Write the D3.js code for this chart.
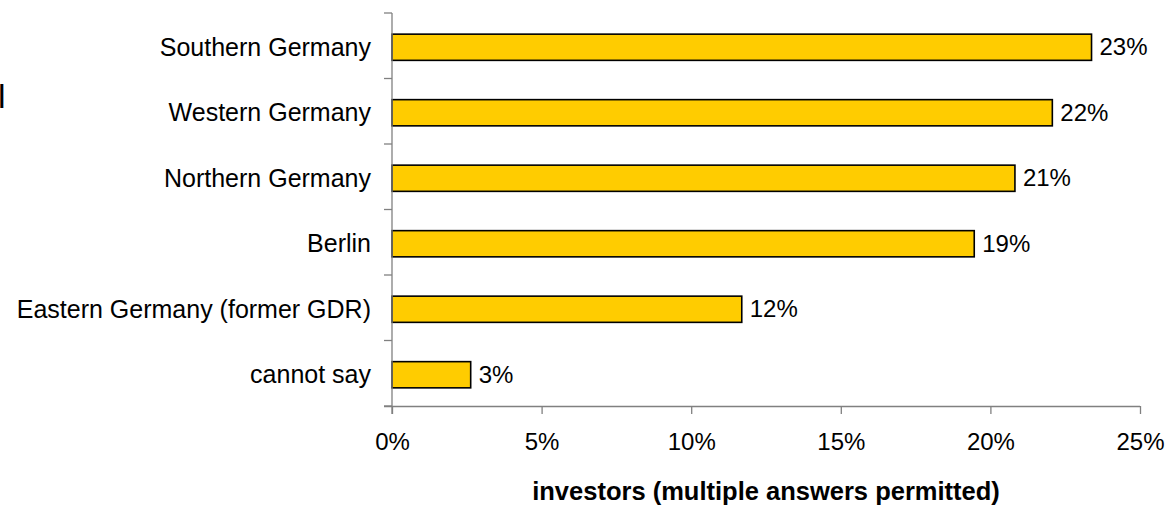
<!DOCTYPE html>
<html>
<head>
<meta charset="utf-8">
<script src="https://cdn.jsdelivr.net/npm/d3@7"></script>
<style>
  html, body { margin: 0; padding: 0; background: #fff; }
  svg { display: block; font-family: "Liberation Sans", Arial, sans-serif; }
</style>
</head>
<body>
<svg id="chart" width="1167" height="506"></svg>
<script>
// Regions named by investors (share of respondents)
const categories = [
  "Southern Germany",
  "Western Germany",
  "Northern Germany",
  "Berlin",
  "Eastern Germany (former GDR)",
  "cannot say"
];
const shares = [0.2338, 0.2207, 0.2082, 0.1946, 0.1169, 0.0263];
const xTicks = [0, 0.05, 0.10, 0.15, 0.20, 0.25];
const axisTitle = "investors (multiple answers permitted)";

const svg = d3.select("#chart");
const plotLeft = 392, plotRight = 1140, plotTop = 13, plotBottom = 406;

const x = d3.scaleLinear().domain([0, 0.25]).range([plotLeft, plotRight]);
const y = d3.scaleBand().domain(categories).range([plotTop, plotBottom])
  .paddingInner(0.6).paddingOuter(0.3);

const pct = d3.format(".0%");

// clipped fragment of text at the left edge
svg.append("text")
  .attr("x", -2).attr("y", 108)
  .attr("font-size", 34)
  .attr("fill", "#000")
  .text("l");

// bars
svg.append("g").selectAll("rect")
  .data(categories)
  .join("rect")
  .attr("x", x(0))
  .attr("y", c => y(c) + 1.5)
  .attr("width", (c, i) => x(shares[i]) - x(0))
  .attr("height", y.bandwidth())
  .attr("fill", "#FFCC00")
  .attr("stroke", "#000")
  .attr("stroke-width", 1.6);

// value labels
svg.append("g").selectAll("text")
  .data(categories)
  .join("text")
  .attr("x", (c, i) => x(shares[i]) + 8)
  .attr("y", c => y(c) + y.bandwidth() / 2 + 1)
  .attr("dy", "0.35em")
  .attr("font-size", 24)
  .attr("fill", "#000")
  .text((c, i) => pct(shares[i]));

// category axis
const gy = svg.append("g");
gy.append("line")
  .attr("x1", plotLeft).attr("x2", plotLeft)
  .attr("y1", plotTop).attr("y2", plotBottom + 8)
  .attr("stroke", "#808080").attr("stroke-width", 1.3);
const gap = (y.step() - y.bandwidth()) / 2;
const boundaries = categories.map(c => y(c) - gap).concat([plotBottom]);
gy.selectAll("line.tick")
  .data(boundaries)
  .join("line")
  .attr("class", "tick")
  .attr("x1", plotLeft - 8).attr("x2", plotLeft)
  .attr("y1", d => d).attr("y2", d => d)
  .attr("stroke", "#808080").attr("stroke-width", 1.3);
gy.selectAll("text")
  .data(categories)
  .join("text")
  .attr("x", plotLeft - 21)
  .attr("y", c => y(c) + y.bandwidth() / 2 + 1)
  .attr("dy", "0.35em")
  .attr("text-anchor", "end")
  .attr("font-size", 25)
  .attr("fill", "#000")
  .text(c => c);

// value axis
const gx = svg.append("g").attr("transform", `translate(0,${plotBottom})`);
gx.call(d3.axisBottom(x).tickValues(xTicks).tickFormat(pct).tickSizeOuter(0).tickSize(8).tickPadding(19));
gx.select(".domain").attr("stroke", "#808080").attr("stroke-width", 1.3)
  .attr("d", `M${plotLeft - 8},0.5H${plotRight}`);
gx.selectAll(".tick line").attr("stroke", "#808080").attr("stroke-width", 1.3);
gx.selectAll(".tick text")
  .attr("font-size", 24)
  .attr("font-family", "\"Liberation Sans\", Arial, sans-serif")
  .attr("fill", "#000");

// axis title
svg.append("text")
  .attr("x", 766)
  .attr("y", 500)
  .attr("text-anchor", "middle")
  .attr("font-size", 25.5)
  .attr("font-weight", "bold")
  .attr("fill", "#000")
  .text(axisTitle);
</script>
</body>
</html>
